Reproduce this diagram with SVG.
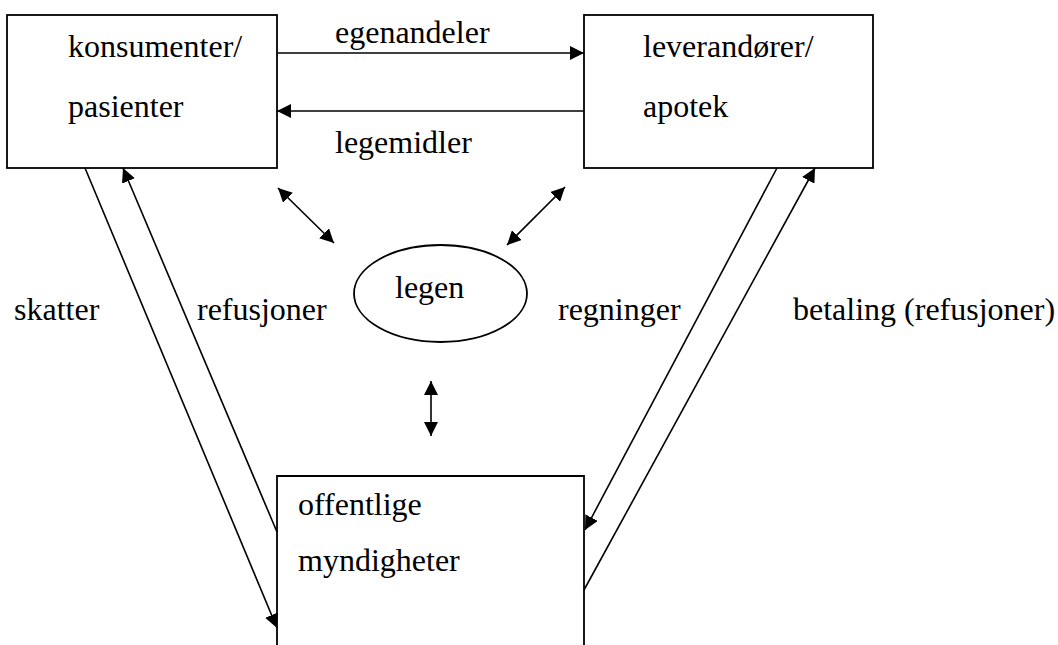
<svg xmlns="http://www.w3.org/2000/svg" width="1058" height="645" viewBox="0 0 1058 645">
  <style>
    .box { fill: #ffffff; stroke: #000000; stroke-width: 1.8; }
    .link { fill: none; stroke: #000000; stroke-width: 1.6; }
    .lbl { font-family: 'Liberation Serif', 'DejaVu Serif', 'Times New Roman', serif; font-size: 32px; fill: #000000; }
  </style>
  <defs>
    <marker id="head" markerUnits="userSpaceOnUse" markerWidth="14" markerHeight="14" refX="14" refY="7" orient="auto-start-reverse">
      <path d="M0,0 L14,7 L0,14 Z" fill="#000000"/>
    </marker>
  </defs>
  <rect width="1058" height="645" fill="#ffffff"/>

  <!-- consumers / patients -->
  <g id="konsumenter">
    <rect class="box" x="7" y="15" width="270" height="153"/>
    <text class="lbl" x="68" y="57">konsumenter/</text>
    <text class="lbl" x="68" y="117">pasienter</text>
  </g>

  <!-- suppliers / pharmacy -->
  <g id="leverandorer">
    <rect class="box" x="584" y="15" width="289" height="153"/>
    <text class="lbl" x="643" y="57">leverandører/</text>
    <text class="lbl" x="643" y="117">apotek</text>
  </g>

  <!-- the doctor -->
  <g id="legen">
    <ellipse class="box" cx="440.5" cy="293.5" rx="86.5" ry="48.5"/>
    <text class="lbl" x="395" y="298">legen</text>
  </g>

  <!-- public authorities (box continues below the frame) -->
  <g id="myndigheter">
    <path class="box" d="M277,660 V476 H584 V660"/>
    <text class="lbl" x="298" y="515">offentlige</text>
    <text class="lbl" x="298" y="571">myndigheter</text>
  </g>

  <!-- flows between the actors -->
  <g id="connectors">
    <line class="link" x1="277" y1="53" x2="584" y2="53" marker-end="url(#head)"/>
    <line class="link" x1="584" y1="111" x2="277" y2="111" marker-end="url(#head)"/>

    <line class="link" x1="85" y1="168" x2="277" y2="628" marker-end="url(#head)"/>
    <line class="link" x1="277" y1="532" x2="123" y2="168" marker-end="url(#head)"/>

    <line class="link" x1="777" y1="168" x2="585" y2="530" marker-end="url(#head)"/>
    <line class="link" x1="584" y1="590" x2="815" y2="168" marker-end="url(#head)"/>

    <line class="link" x1="278" y1="188" x2="334" y2="243" marker-start="url(#head)" marker-end="url(#head)"/>
    <line class="link" x1="565" y1="187" x2="507" y2="245" marker-start="url(#head)" marker-end="url(#head)"/>
    <line class="link" x1="431" y1="381" x2="431" y2="436" marker-start="url(#head)" marker-end="url(#head)"/>
  </g>

  <!-- flow labels -->
  <g id="labels">
    <text class="lbl" x="335" y="43">egenandeler</text>
    <text class="lbl" x="335" y="153">legemidler</text>
    <text class="lbl" x="14" y="320">skatter</text>
    <text class="lbl" x="197" y="320">refusjoner</text>
    <text class="lbl" x="558" y="320">regninger</text>
    <text class="lbl" x="793" y="320">betaling (refusjoner)</text>
  </g>
</svg>
